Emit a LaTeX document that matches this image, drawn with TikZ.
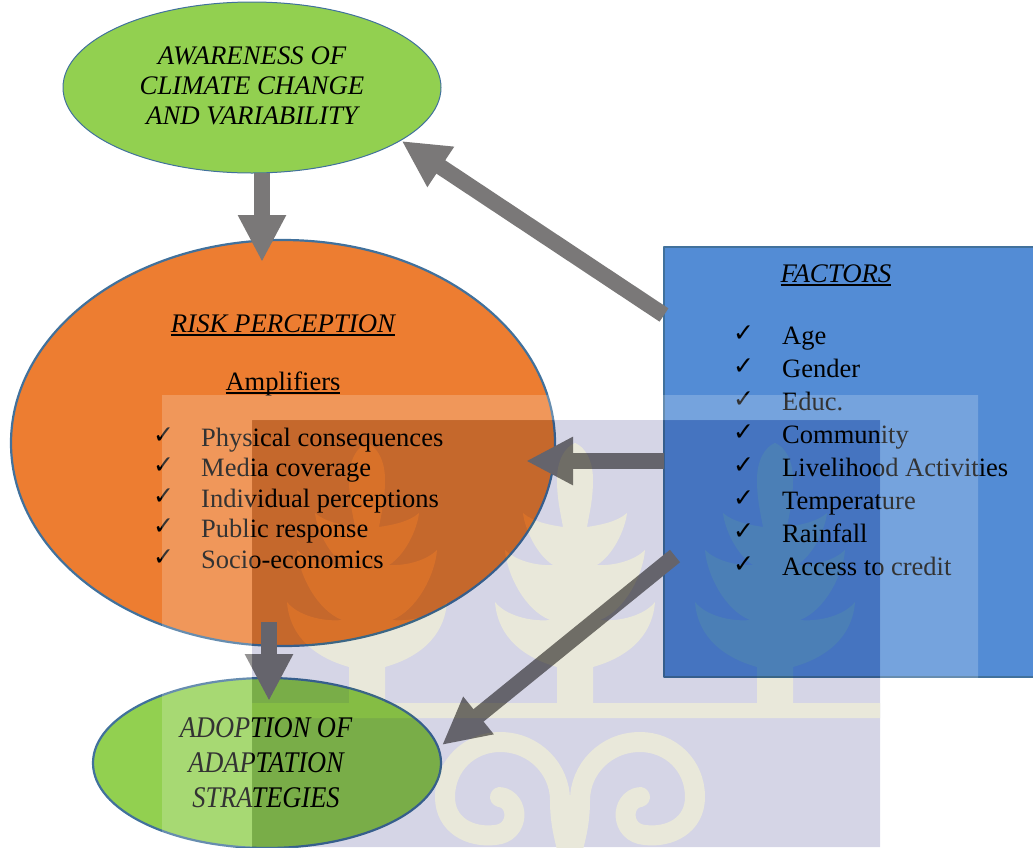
\documentclass[tikz,border=0pt]{standalone}
\usepackage{fontspec}
\setmainfont{Liberation Serif}
\newfontfamily\checkfont{DejaVu Sans}
\usetikzlibrary{arrows.meta,shapes.geometric}
\definecolor{leafgreen}{HTML}{92D050}
\definecolor{riskorange}{HTML}{ED7D31}
\definecolor{factorblue}{HTML}{538CD5}
\definecolor{rimblue}{HTML}{41719C}
\definecolor{arrowgrey}{HTML}{7A7878}
\definecolor{seallav}{HTML}{D5D5E6}
\definecolor{sealcream}{HTML}{E9E8DA}
\tikzset{
	oval/.style={ellipse,draw=rimblue,line width=2.2pt,inner sep=0pt,outer sep=0pt},
	bigarrow/.style={arrowgrey,line width=16pt,-{Triangle[length=47pt,width=45pt]}},
	big/.style={font=\fontsize{26.5}{30}\selectfont},
	caps/.style={font=\fontsize{26.8}{30}\selectfont\itshape},
	tall/.style={font=\fontsize{30}{34}\selectfont\itshape,xscale=.88}
}
\newcommand{\tick}{{\checkfont\fontsize{25}{25}\selectfont ✓}}
\newcommand{\thickline}[1]{\setbox0\hbox{#1}\rlap{\rule[-3.5pt]{\wd0}{1.7pt}}\box0}
\begin{document}
\begin{tikzpicture}[x=1pt,y=-1pt,line join=round]
	\useasboundingbox (0,0) rectangle (1033,847);
	\node[oval,fill=leafgreen,line width=1pt,minimum width=378pt,minimum height=171pt] (awareness) at (252,87.5) {};
	\node[oval,fill=riskorange,minimum width=544pt,minimum height=406pt] (risk) at (283,443) {};
	\node[oval,fill=leafgreen,minimum width=348pt,minimum height=170pt] (adoption) at (267,763) {};
	\node[draw=rimblue,line width=2.2pt,fill=factorblue,anchor=north west,outer sep=0pt,minimum width=390pt,minimum height=430pt] (factors) at (664,247) {};
	\draw[bigarrow] ([xshift=10pt]awareness.south) -- ([xshift=-21pt,yshift=-22pt]risk.north);
	\draw[bigarrow] ([yshift=-68pt]factors.north west) -- ([xshift=16pt,yshift=7pt]awareness.south east);
	\draw[bigarrow] ([yshift=-214pt]factors.north west) -- ([xshift=-29pt,yshift=-18pt]risk.east);
	\draw[bigarrow] ([xshift=-14pt,yshift=24pt]risk.south) -- ([xshift=2pt,yshift=-23pt]adoption.north);
	\draw[bigarrow] ([xshift=11pt,yshift=-309pt]factors.north west) -- ([xshift=1pt,yshift=18pt]adoption.east);
	\node[caps,anchor=base] (aw1) at (252,64) {AWARENESS OF};
	\node[caps,anchor=base] (aw2) at (252,94) {CLIMATE CHANGE};
	\node[caps,anchor=base] (aw3) at (252,124) {AND VARIABILITY};
	\node[caps,anchor=base] (risktitle) at (283,332) {\thickline{RISK PERCEPTION}};
	\node[big,anchor=base] (amptitle) at (283,390) {\thickline{Amplifiers}};
	\foreach \i/\txt in {0/Physical consequences,1/Media coverage,2/Individual perceptions,3/Public response,4/Socio-economics}
	{\node[big,anchor=base west,inner sep=0pt] (amp\i) at (201,446+30.6*\i) {\txt};
		\node[anchor=base west,inner sep=0pt] (ampt\i) at (153,443+30.6*\i) {\tick};}
	\node[caps,anchor=base] (facttitle) at (836,282) {\thickline{FACTORS}};
	\foreach \i/\txt in {0/Age,1/Gender,2/Educ.,3/Community,4/Livelihood Activities,5/Temperature,6/Rainfall,7/Access to credit}
	{\node[big,anchor=base west,inner sep=0pt] (fac\i) at (782,344+33*\i) {\txt};
		\node[anchor=base west,inner sep=0pt] (fact\i) at (733,341+33*\i) {\tick};}
	\node[tall,anchor=base] (ad1) at (266,737) {ADOPTION OF};
	\node[tall,anchor=base] (ad2) at (266,772) {ADAPTATION};
	\node[tall,anchor=base] (ad3) at (266,807) {STRATEGIES};
	\fill[white,opacity=.2,even odd rule] (162,395) rectangle (978,847) (252,420) rectangle (880,847);
	\begin{scope}[blend mode=multiply]
	\begin{scope}[transparency group]
		\pgfsetblendmode{normal}
		\clip (252,420) rectangle (880,847);
		\fill[seallav] (252,420) rectangle (880,847);
		\fill[sealcream] (252,703) rectangle (880,718);
		\foreach \t in {367,575,775}
		\foreach \s in {1,-1}
		{\begin{scope}[xshift=\t pt,xscale=\s]
				\fill[sealcream] (-1,443) -- (0,443) .. controls (10,447) and (18,460) .. (18,480)
				.. controls (18,500) and (14,515) .. (12,527) .. controls (25,525) and (42,522) .. (52,513)
				.. controls (50,530) and (38,555) .. (22,565) .. controls (40,566) and (60,560) .. (70,550)
				.. controls (68,575) and (50,610) .. (25,620) .. controls (45,622) and (70,615) .. (80,602)
				.. controls (78,630) and (60,655) .. (18,667) -- (18,710) -- (-1,710) -- cycle;
			\end{scope}}
		\foreach \s in {1,-1}
		{\begin{scope}[xshift=570pt,xscale=\s]
				\draw[sealcream,line width=20pt,line cap=round] (-70,797) .. controls (-50,800) and (-50,833) .. (-75,835)
				.. controls (-100,838) and (-125,825) .. (-125,797) .. controls (-125,765) and (-100,742) .. (-70,742)
				.. controls (-35,742) and (-10,770) .. (-10,800) .. controls (-10,825) and (-5,840) .. (0,860);
			\end{scope}}
	\end{scope}
	\end{scope}
\end{tikzpicture}
\end{document}
